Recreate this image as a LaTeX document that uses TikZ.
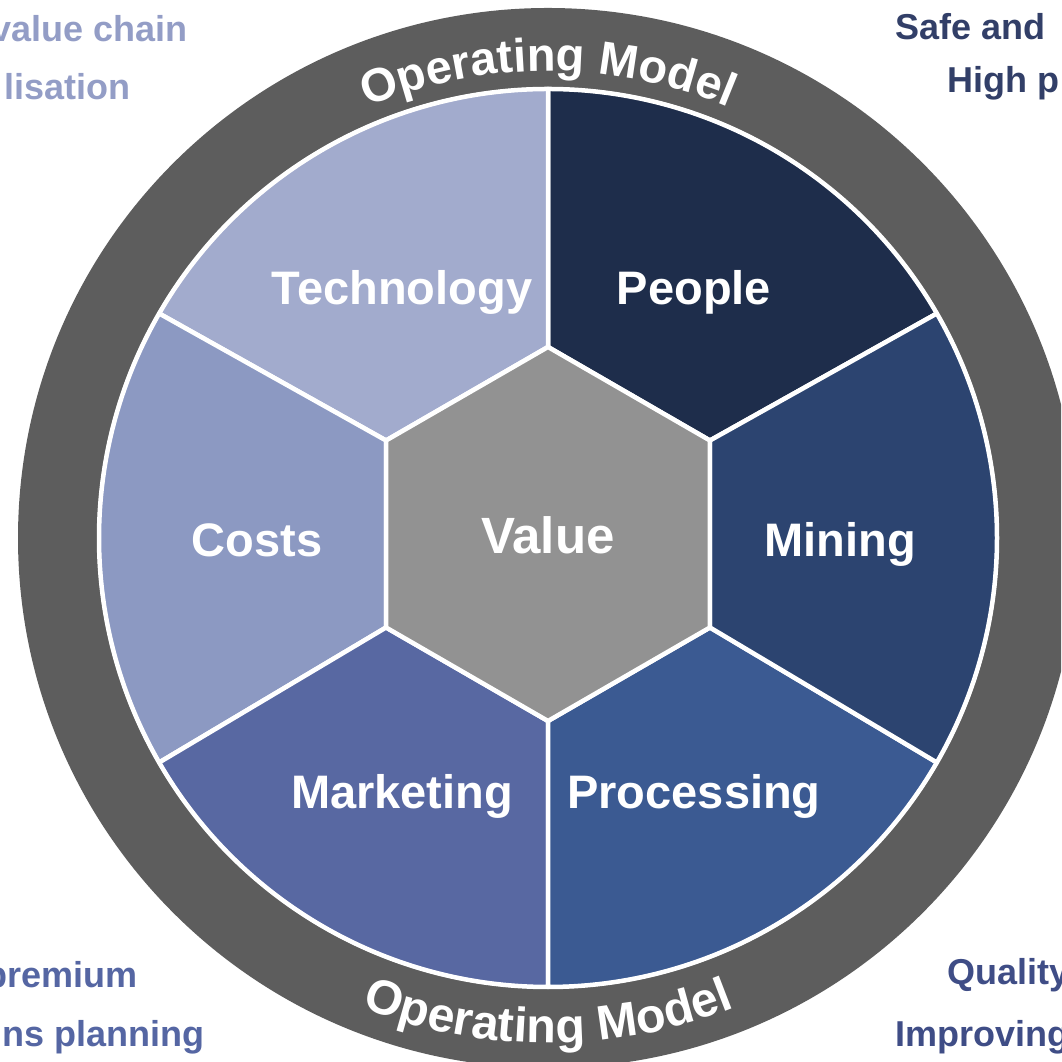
\documentclass[tikz,border=0pt]{standalone}
\usepackage{fontspec}
\setmainfont{Liberation Sans}
\usetikzlibrary{decorations.text}
\definecolor{ringgray}{HTML}{5D5D5D}
\definecolor{techc}{HTML}{A2ABCD}
\definecolor{peoplec}{HTML}{1E2D4B}
\definecolor{miningc}{HTML}{2C4470}
\definecolor{procc}{HTML}{3B5A92}
\definecolor{marketc}{HTML}{5868A2}
\definecolor{costsc}{HTML}{8C99C2}
\definecolor{valuec}{HTML}{929292}
\definecolor{tlc}{HTML}{939DC6}
\definecolor{trc}{HTML}{323F68}
\definecolor{blc}{HTML}{5566A3}
\definecolor{brc}{HTML}{3F4D86}
\begin{document}
\begin{tikzpicture}[x=1pt,y=1pt,
  seg/.style={draw=white, line width=4.5pt, line join=round},
  lbl/.style={text=white, font=\bfseries\fontsize{47}{47}\selectfont, inner sep=0pt, anchor=base},
  side/.style={font=\bfseries\fontsize{36}{36}\selectfont, inner sep=0pt}]
\useasboundingbox (0,0) rectangle (1061,1062);
\clip (0,0) rectangle (1061,1062);
\coordinate (C) at (548,524);
\coordinate (H) at (548,528);
% ring
\fill[ringgray] (C) circle[radius=530];
% segments
\filldraw[fill=peoplec, seg] ([shift={(H)}]30:187) -- ([shift={(C)}]30:449) arc[start angle=30,end angle=90,radius=449] -- ([shift={(H)}]90:187) -- cycle;
\filldraw[fill=techc, seg] ([shift={(H)}]90:187) -- ([shift={(C)}]90:449) arc[start angle=90,end angle=150,radius=449] -- ([shift={(H)}]150:187) -- cycle;
\filldraw[fill=costsc, seg] ([shift={(H)}]150:187) -- ([shift={(C)}]150:449) arc[start angle=150,end angle=210,radius=449] -- ([shift={(H)}]210:187) -- cycle;
\filldraw[fill=marketc, seg] ([shift={(H)}]210:187) -- ([shift={(C)}]210:449) arc[start angle=210,end angle=270,radius=449] -- ([shift={(H)}]270:187) -- cycle;
\filldraw[fill=procc, seg] ([shift={(H)}]270:187) -- ([shift={(C)}]270:449) arc[start angle=270,end angle=330,radius=449] -- ([shift={(H)}]330:187) -- cycle;
\filldraw[fill=miningc, seg] ([shift={(H)}]330:187) -- ([shift={(C)}]330:449) arc[start angle=330,end angle=390,radius=449] -- ([shift={(H)}]390:187) -- cycle;
% hexagon
\filldraw[fill=valuec, seg] ([shift={(H)}]90:187) -- ([shift={(H)}]150:187) -- ([shift={(H)}]210:187) -- ([shift={(H)}]270:187) -- ([shift={(H)}]330:187) -- ([shift={(H)}]30:187) -- cycle;
\draw[white, line width=3.5pt] (C) circle[radius=449];
% ring texts
\path[decorate, decoration={text along path, text={|\bfseries\fontsize{47}{47}\selectfont|Operating Model}, text align=center, text color=white}]
  ([shift={(C)}]150:467) arc[start angle=150,end angle=30,radius=467];
\path[decorate, decoration={text along path, text={|\bfseries\fontsize{48.5}{48.5}\selectfont|Operating Model}, text align=center, text color=white}]
  ([shift={(C)}]210:505) arc[start angle=210,end angle=330,radius=505];
% labels
\node[lbl] (tech) at (402,757) {Technology};
\node[lbl] (people) at (694,757) {People};
\node[lbl] (costs) at (257,505) {Costs};
\node[lbl] (mining) at (840,505) {Mining};
\node[lbl, font=\bfseries\fontsize{51}{51}\selectfont] (value) at (548,508) {Value};
\node[lbl] (market) at (402,253) {Marketing};
\node[lbl] (proc) at (694,253) {Processing};
% corner texts
\node[side, text=tlc, anchor=base east] (tl1) at (188,1020) {value chain};
\node[side, text=tlc, anchor=base east] (tl2) at (131,962) {lisation};
\node[side, text=trc, anchor=base west] (tr1) at (895,1022) {Safe and};
\node[side, text=trc, anchor=base west] (tr2) at (947,969) {High p};
\node[side, text=blc, anchor=base east] (bl1) at (138,74) {premium};
\node[side, text=blc, anchor=base east] (bl2) at (205,15) {ns planning};
\node[side, text=brc, anchor=base west] (br1) at (947,77) {Quality};
\node[side, text=brc, anchor=base west] (br2) at (895,15) {Improving};
\end{tikzpicture}
\end{document}
